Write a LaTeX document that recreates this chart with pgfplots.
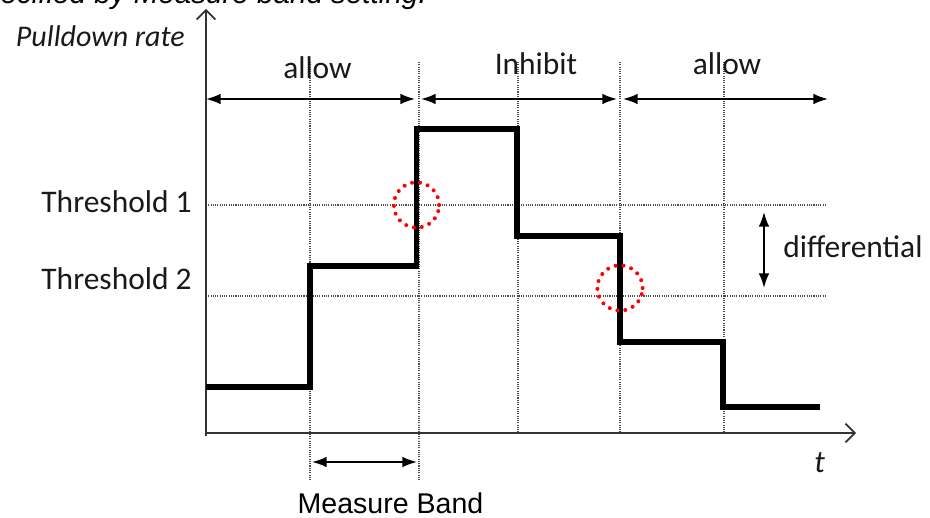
\documentclass[border=0pt]{standalone}
\usepackage{fontspec}
\setmainfont{Carlito}
\newfontfamily\arialfont{Liberation Sans}
\usepackage{pgfplots}
\pgfplotsset{compat=1.18}
\usetikzlibrary{arrows.meta}
\tikzset{
  gridl/.style={black!70, line width=0.9pt, dash pattern=on 0.8pt off 0.9pt},
  arr/.style={black, line width=1.4pt, {Latex[length=11pt,width=8pt]}-{Latex[length=11pt,width=8pt]}},
  txt/.style={inner sep=0pt, font=\fontsize{23.6}{28}\selectfont, text=black!90},
}
\begin{document}
\begin{tikzpicture}
\useasboundingbox (0,0) rectangle (697.5pt,387.75pt);
\begin{axis}[
  at={(0,0)}, anchor=south west,
  x=0.75pt, y=0.75pt,
  xmin=-206, xmax=724, ymin=-84, ymax=433,
  hide axis, clip=false,
]
% grid lines (thresholds)
\addplot[gridl] coordinates {(0,228) (619,228)};
\addplot[gridl] coordinates {(0,137) (619,137)};
% vertical dotted lines
\addplot[gridl] coordinates {(104,371) (104,-47)};
\addplot[gridl] coordinates {(213,371) (213,-47)};
\addplot[gridl] coordinates {(312,371) (312,0)};
\addplot[gridl] coordinates {(414,371) (414,0)};
\addplot[gridl] coordinates {(518,371) (518,0)};
% axes
\addplot[black!80, line width=1.3pt, -{Straight Barb[length=7pt,width=14pt]}] coordinates {(0,-3) (0,424)};
\addplot[black!80, line width=1.3pt, -{Straight Barb[length=7pt,width=14pt]}] coordinates {(0,0) (650,0)};
% step signal
\addplot[black, line width=3.8pt, line join=miter] coordinates {
  (0,46) (104,46) (104,167) (210.5,167) (210.5,304) (311,304) (311,197)
  (414,197) (414,91) (517,91) (517,26) (614,26)};
% red dotted circles
\addplot[only marks, mark=o, mark size=17pt,
  mark options={red, line width=3pt, line cap=round, dash pattern=on 0pt off 6pt}]
  coordinates {(210.5,228) (414,145)};
% range arrows
\addplot[arr] coordinates {(0,334) (209,334)};
\addplot[arr] coordinates {(215,334) (411,334)};
\addplot[arr] coordinates {(417,334) (622,334)};
\addplot[arr] coordinates {(558,221) (558,145)};
\addplot[arr] coordinates {(106,-29) (211,-29)};
% labels
\node[txt, anchor=base east, font=\fontsize{22.5}{26}\selectfont\itshape] at (axis cs:-21,386) {Pulldown rate};
\node[txt, anchor=base] at (axis cs:111.5,354) {allow};
\node[txt, anchor=base] at (axis cs:330,358) {Inhibit};
\node[txt, anchor=base] at (axis cs:521,358) {allow};
\node[txt, anchor=base east] at (axis cs:-14,220) {Threshold 1};
\node[txt, anchor=base east] at (axis cs:-14,143) {Threshold 2};
\node[txt, anchor=base west] at (axis cs:577,175) {differential};
\node[txt, anchor=base west, font=\fontsize{23.6}{28}\selectfont\itshape] at (axis cs:608,-39) {t};
\node[inner sep=0pt, anchor=base, font=\arialfont\fontsize{21.4}{26}\selectfont] at (axis cs:184.5,-80) {Measure Band};
\node[inner sep=0pt, anchor=base east, font=\arialfont\itshape\fontsize{22.2}{26}\selectfont] at (axis cs:221,429) {is specified by Measure band setting.};
\end{axis}
\end{tikzpicture}
\end{document}
